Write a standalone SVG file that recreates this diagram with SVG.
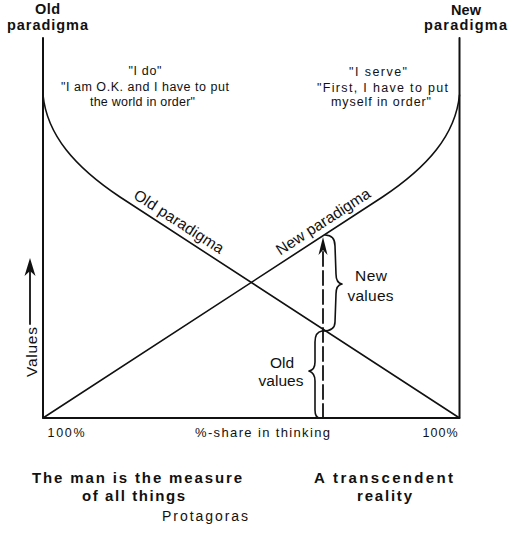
<svg xmlns="http://www.w3.org/2000/svg" width="508" height="538" viewBox="0 0 508 538">
<style>
text{font-family:"Liberation Sans",Arial,sans-serif;fill:#111}
.b{font-weight:bold}
.ln{fill:none;stroke:#111;stroke-linecap:round;stroke-linejoin:round}
</style>
<rect width="508" height="538" fill="#fff"/>
<g id="axes" class="ln" stroke-width="2">
<path d="M43,38 L43,418 L459.5,418 L459.5,38"/>
</g>
<g id="connectors">
<path id="old-curve" class="ln" stroke-width="1.6" d="M43,95 C47,135 75,167 120,197 L459.5,418"/>
<path id="new-curve" class="ln" stroke-width="1.6" d="M459.5,95 C455.5,135 427.5,167 382.5,197 L43,418"/>
<path id="dashed-arrow" class="ln" stroke-width="1.8" stroke-linecap="butt" stroke-dasharray="14,5" d="M323,418 L323,248"/>
<path d="M323,237 L327.5,255 L323,250 L318.5,255 Z" fill="#111"/>
<path id="values-arrow" class="ln" stroke-width="1.8" d="M30,324 L30,268"/>
<path d="M30,258 L35.5,276 L30,271 L24.5,276 Z" fill="#111"/>
<path id="brace-new" class="ln" stroke-width="1.6" d="M325,235 Q335,235 335,246 L336,274 Q336,283 342,284 Q336,285 336,294 L335,322 Q335,331 323,331"/>
<path id="brace-old" class="ln" stroke-width="1.6" d="M322,331 Q315,332 315,342 L315,362 Q315,370 309,371 Q315,373 315,381 L315,410 Q315,418 320,418"/>
</g>
<g id="label-old-top" class="b" font-size="14.5" text-anchor="middle">
<text x="47.5" y="14" textLength="25">Old</text>
<text x="47.5" y="30" textLength="81">paradigma</text>
</g>
<g id="label-new-top" class="b" font-size="14.5" text-anchor="middle">
<text x="466" y="15" textLength="30">New</text>
<text x="465.5" y="30" textLength="83">paradigma</text>
</g>
<g id="quote-old" font-size="12.5" text-anchor="middle">
<text x="145" y="75" textLength="33">"I do"</text>
<text x="145" y="91" textLength="168">"I am O.K. and I have to put</text>
<text x="142.5" y="106" textLength="105">the world in order"</text>
</g>
<g id="quote-new" font-size="12.5" text-anchor="middle">
<text x="378" y="76" textLength="58">"I serve"</text>
<text x="382.5" y="92" textLength="131">"First, I have to put</text>
<text x="381" y="106" textLength="100">myself in order"</text>
</g>
<g id="curve-labels" font-size="15.5" text-anchor="middle">
<text transform="translate(176,226) rotate(33)" textLength="104">Old paradigma</text>
<text transform="translate(326,226) rotate(-33)" textLength="109">New paradigma</text>
</g>
<g id="value-labels" font-size="15.5" text-anchor="middle">
<text x="371" y="281" textLength="32">New</text>
<text x="370.5" y="301" textLength="46">values</text>
<text x="282" y="368" textLength="24">Old</text>
<text x="281" y="386" textLength="45">values</text>
<text transform="translate(36.5,352) rotate(-90)" textLength="50">Values</text>
</g>
<g id="axis-labels" font-size="12.5" text-anchor="middle">
<text x="66" y="437" textLength="37">100%</text>
<text x="262.5" y="437" font-size="13" textLength="135">%-share in thinking</text>
<text x="440" y="437" textLength="35">100%</text>
</g>
<g id="bottom-left" class="b" font-size="15" text-anchor="middle">
<text x="137" y="483" textLength="210">The man is the measure</text>
<text x="133.5" y="500.5" textLength="103">of all things</text>
</g>
<g id="bottom-right" class="b" font-size="15" text-anchor="middle">
<text x="383.5" y="483" textLength="139">A transcendent</text>
<text x="384.5" y="500.5" textLength="55">reality</text>
</g>
<g id="protagoras" font-size="14" text-anchor="middle">
<text x="205" y="521" textLength="86">Protagoras</text>
</g>
</svg>
